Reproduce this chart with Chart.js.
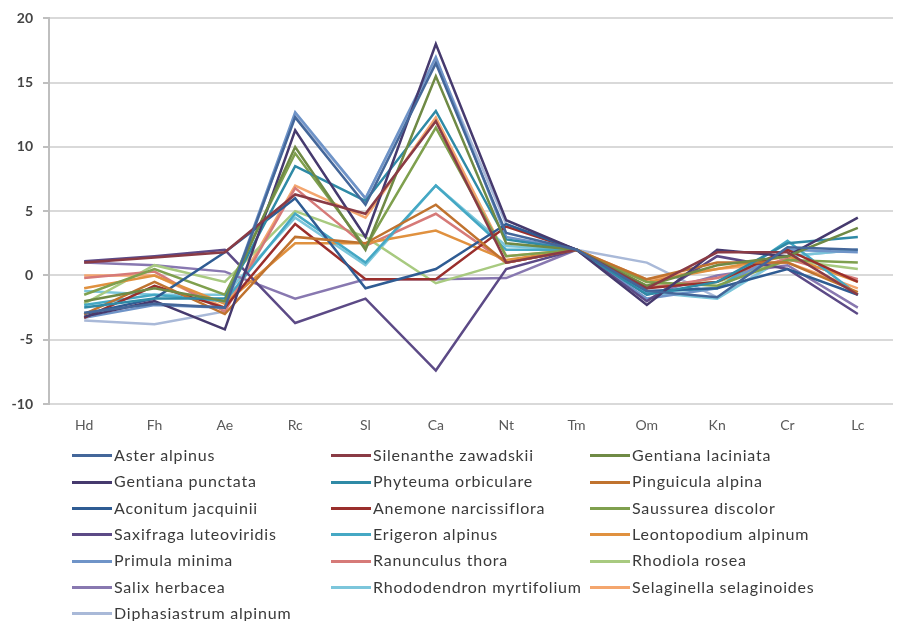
<!DOCTYPE html>
<html>
<head>
<meta charset="utf-8">
<script src="https://cdn.jsdelivr.net/npm/chart.js@4.4.1/dist/chart.umd.min.js"></script>
<style>
  html, body { margin: 0; padding: 0; background: #fff; }
  #wrap { position: relative; width: 900px; height: 621px; overflow: hidden; }
  #c { position: absolute; left: 0; top: 0; }
  .lg { position: absolute; font-family: Lato, "Open Sans", sans-serif; font-size: 16px; letter-spacing: 0.8px; color: #3a3a3a; white-space: nowrap; line-height: 18px; }
  .lg i { display: inline-block; width: 40px; height: 3px; vertical-align: middle; margin-right: 2px; position: relative; top: -1px; }
</style>
</head>
<body>
<div id="wrap">
  <canvas id="c" width="900" height="621"></canvas>
  <div id="legend"></div>
</div>
<script>
const categories = ["Hd", "Fh", "Ae", "Rc", "Sl", "Ca", "Nt", "Tm", "Om", "Kn", "Cr", "Lc"];
const yTicks = [-10, -5, 0, 5, 10, 15, 20];

const seriesNames = [
  "Aster alpinus", "Silenanthe zawadskii", "Gentiana laciniata",
  "Gentiana punctata", "Phyteuma orbiculare", "Pinguicula alpina",
  "Aconitum jacquinii", "Anemone narcissiflora", "Saussurea discolor",
  "Saxifraga luteoviridis", "Erigeron alpinus", "Leontopodium alpinum",
  "Primula minima", "Ranunculus thora", "Rhodiola rosea",
  "Salix herbacea", "Rhododendron myrtifolium", "Selaginella selaginoides",
  "Diphasiastrum alpinum"
];

const asterAlpinus          = [-2.9, -2.2, -2.5, 12.3, 5.5, 16.5, 3.3, 2, -1.2, -1.7, 2.2, 2.0];
const silenantheZawadskii   = [1.0, 1.4, 1.8, 6.3, 4.8, 12.0, 1.0, 2, -1.0, 1.8, 1.8, -1.5];
const gentianaLaciniata     = [-2.0, -1.0, -2.0, 10.0, 2.0, 15.5, 2.5, 2, -0.8, 0.8, 1.5, 3.7];
const gentianaPunctata      = [-3.2, -2.0, -4.2, 11.3, 3.0, 18.0, 4.3, 2, -2.3, 2.0, 1.5, 4.5];
const phyteumaOrbiculare    = [-2.5, -1.8, -1.8, 8.5, 5.8, 12.8, 2.8, 2, -1.5, -0.5, 2.5, 3.0];
const pinguiculaAlpina      = [-3.0, -0.5, -3.0, 3.0, 2.5, 5.5, 1.0, 2, -0.3, 1.0, 1.0, -1.3];
const aconitumJacquinii     = [-3.0, -1.8, 1.8, 6.0, -1.0, 0.5, 4.0, 2, -1.2, -1.0, 0.5, -1.5];
const anemoneNarcissiflora  = [-3.3, -0.8, -2.5, 4.0, -0.3, -0.3, 3.8, 2, -1.0, -0.5, 2.0, -0.5];
const saussureaDiscolor     = [-1.5, 0.5, -1.5, 9.5, 2.2, 11.5, 1.5, 2, -0.5, -0.8, 1.2, 1.0];
const saxifragaLuteoviridis = [1.1, 1.5, 2.0, -3.7, -1.8, -7.4, 0.5, 2, -2.0, 1.5, 0.5, -3.0];
const erigeronAlpinus       = [-2.3, -1.5, -2.0, 4.8, 1.0, 7.0, 2.0, 2, -1.3, -1.0, 2.7, -1.5];
const leontopodiumAlpinum   = [-1.0, 0.0, -2.2, 2.5, 2.5, 3.5, 1.2, 2, -0.5, 0.5, 1.5, -0.5];
const primulaMinima         = [-3.3, -2.3, -2.5, 12.7, 6.0, 17.0, 3.0, 2, -1.8, -1.0, 2.0, 1.8];
const ranunculusThora       = [-0.2, 0.3, -2.8, 6.8, 2.3, 4.8, 1.0, 2, -1.0, -0.2, 1.3, -0.3];
const rhodiolaRosea         = [-2.2, 0.8, -0.5, 5.0, 3.0, -0.6, 1.0, 2, -0.8, -0.5, 1.2, 0.5];
const salixHerbacea         = [1.0, 0.8, 0.3, -1.8, -0.3, -0.3, -0.2, 2, -1.5, 0.0, 0.8, -2.5];
const rhododendronMyrtifolium = [-1.2, -1.5, -1.5, 4.5, 0.8, 7.0, 2.3, 2, -1.3, -1.8, 1.5, 2.0];
const selaginellaSelaginoides = [0.0, 0.0, -2.5, 7.0, 4.5, 12.3, 1.5, 2, -0.3, 0.5, 1.0, -1.0];
const diphasiastrumAlpinum  = [-3.5, -3.8, -2.8, 12.5, 6.0, 16.8, 4.0, 2, 1.0, -1.7, 1.5, 2.0];

const seriesValues = [
  asterAlpinus, silenantheZawadskii, gentianaLaciniata,
  gentianaPunctata, phyteumaOrbiculare, pinguiculaAlpina,
  aconitumJacquinii, anemoneNarcissiflora, saussureaDiscolor,
  saxifragaLuteoviridis, erigeronAlpinus, leontopodiumAlpinum,
  primulaMinima, ranunculusThora, rhodiolaRosea,
  salixHerbacea, rhododendronMyrtifolium, selaginellaSelaginoides,
  diphasiastrumAlpinum
];

const seriesColors = [
  "#44679A", "#8A3B45", "#6F8A45",
  "#463A6E", "#2F8AA6", "#C0732F",
  "#2F5C93", "#9A2F2C", "#7FA04E",
  "#5C4A86", "#45A8C4", "#E0913F",
  "#6F94C8", "#D67A78", "#A8CA80",
  "#8878B0", "#7CC6DB", "#F4A66E",
  "#A9B9D8"
];

const datasets = seriesNames.map((n, i) => ({
  label: n,
  data: seriesValues[i],
  borderColor: seriesColors[i],
  backgroundColor: seriesColors[i],
  borderWidth: 2.5,
  pointRadius: 0,
  tension: 0,
  fill: false
}));

new Chart(document.getElementById('c'), {
  type: 'line',
  data: { labels: categories, datasets },
  options: {
    responsive: false,
    animation: false,
    layout: { padding: { top: 8, right: 7, bottom: 187, left: 0 } },
    plugins: { legend: { display: false }, tooltip: { enabled: false } },
    scales: {
      x: {
        offset: true,
        grid: { display: false, drawTicks: false },
        border: { display: false },
        ticks: { color: '#595959', font: { family: 'Lato, "Open Sans", sans-serif', size: 14 }, padding: 13, maxRotation: 0 },
        afterFit: (s) => { s.height = 30; }
      },
      y: {
        min: -10, max: 20,
        afterBuildTicks: (s) => { s.ticks = yTicks.map(v => ({ value: v })); },
        grid: { color: '#d9d9d9', lineWidth: 2, tickLength: 6, tickColor: '#bfbfbf' },
        border: { display: true, color: '#bfbfbf', width: 2 },
        ticks: { color: '#444', font: { family: 'Lato, "Open Sans", sans-serif', size: 14, weight: 'bold' }, padding: 10 },
        afterFit: (s) => { s.width = 49; }
      }
    }
  }
});

// HTML legend: 3 columns, row-major
const legend = document.getElementById('legend');
const colX = [72, 331, 590];
seriesNames.forEach((n, i) => {
  const d = document.createElement('div');
  d.className = 'lg';
  d.style.left = colX[i % 3] + 'px';
  d.style.top = (446 + Math.floor(i / 3) * 26.3) + 'px';
  d.innerHTML = '<i style="background:' + seriesColors[i] + '"></i>' + n;
  legend.appendChild(d);
});
</script>
</body>
</html>
